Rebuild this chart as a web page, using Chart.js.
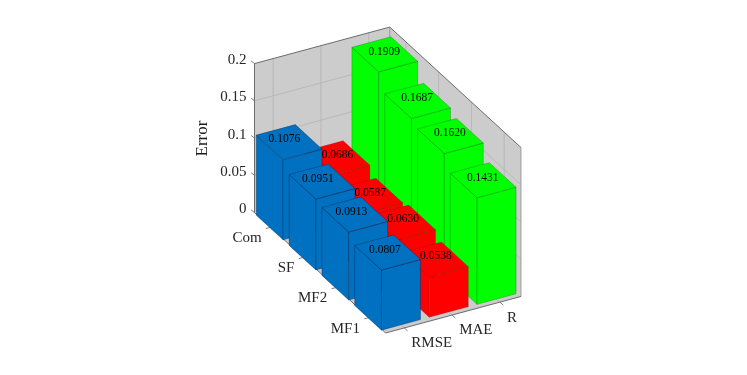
<!DOCTYPE html>
<html><head><meta charset="utf-8">
<style>html,body{margin:0;padding:0;background:#fff}canvas{display:block}</style>
<script src="https://cdn.jsdelivr.net/npm/chart.js@4/dist/chart.umd.js"></script>
</head><body><canvas id="c" width="747" height="375"></canvas>
<script>
// ---- data ----
const categories = ['Com', 'SF', 'MF2', 'MF1'];
const metrics = ['RMSE', 'MAE', 'R'];
const rmseValues = [0.1076, 0.0951, 0.0913, 0.0807];
const maeValues = [0.0686, 0.0587, 0.0630, 0.0538];
const rValues = [0.1909, 0.1687, 0.1620, 0.1431];
const seriesValues = [rmseValues, maeValues, rValues];
const seriesColors = ['#0070c0', '#ff0000', '#00ff00'];
const edgeColors = ['rgba(0,20,50,0.5)', 'rgba(90,0,0,0.3)', 'rgba(0,60,0,0.42)'];
const yTicks = [0, 0.05, 0.1, 0.15, 0.2];

// ---- oblique projection of the floor plane ----
const ORIGIN = [289.2, 222.3];
const METRIC_STEP = [47.8, -12.9];
const CATEGORY_STEP = [32.8, 30.1];
const M_LIM = [-0.39, 2.44];
const C_LIM = [-0.49, 3.51];
const HALF = 0.408;
const SERIF = '"Liberation Serif", "Times New Roman", serif';
const labelShift = [[-4.8, -2.9], [0.5, -3.2], [-0.5, -2.6]];
const rmseLabelDrift = 0.7;

function floorPt(m, c) {
  return [ORIGIN[0] + m * METRIC_STEP[0] + c * CATEGORY_STEP[0],
          ORIGIN[1] + m * METRIC_STEP[1] + c * CATEGORY_STEP[1]];
}
function poly(ctx, pts, fill, stroke, lw) {
  ctx.beginPath();
  pts.forEach((p, i) => i ? ctx.lineTo(p[0], p[1]) : ctx.moveTo(p[0], p[1]));
  ctx.closePath();
  if (fill) { ctx.fillStyle = fill; ctx.fill(); }
  if (stroke) { ctx.strokeStyle = stroke; ctx.lineWidth = lw; ctx.stroke(); }
}
function line(ctx, a, b, color, lw) {
  ctx.beginPath(); ctx.moveTo(a[0], a[1]); ctx.lineTo(b[0], b[1]);
  ctx.strokeStyle = color; ctx.lineWidth = lw; ctx.stroke();
}
const up = (p, dz) => [p[0], p[1] + dz];

class Bar3DController extends Chart.BarController {
  draw() {
    const ctx = this.chart.ctx, m = this.index, ds = this.getDataset();
    const y = this.getMeta().vScale, base = y.getPixelForValue(0);
    ctx.save();
    ctx.lineJoin = 'round';
    ds.data.forEach((v, c) => {
      const dz = y.getPixelForValue(v) - base;
      const left = floorPt(m - HALF, c - HALF), front = floorPt(m - HALF, c + HALF);
      const right = floorPt(m + HALF, c + HALF), back = floorPt(m + HALF, c - HALF);
      const col = ds.backgroundColor, edge = ds.borderColor;
      poly(ctx, [left, front, up(front, dz), up(left, dz)], col, edge, 0.6);
      poly(ctx, [front, right, up(right, dz), up(front, dz)], col, edge, 0.6);
      poly(ctx, [up(left, dz), up(front, dz), up(right, dz), up(back, dz)], col, edge, 0.6);
    });
    ctx.restore();
  }
}
Bar3DController.id = 'bar3d';
Bar3DController.defaults = Chart.BarController.defaults;
Bar3DController.overrides = Chart.BarController.overrides;
Chart.register(Bar3DController);

const box3d = {
  id: 'box3d',
  beforeDatasetsDraw(chart) {
    const ctx = chart.ctx, y = chart.scales.y, base = y.getPixelForValue(0);
    const top = y.getPixelForValue(0.2) - base;
    const L = floorPt(M_LIM[0], C_LIM[0]), F = floorPt(M_LIM[0], C_LIM[1]);
    const R = floorPt(M_LIM[1], C_LIM[1]), B = floorPt(M_LIM[1], C_LIM[0]);
    const wall = '#cccccc', grid = '#b4b4b4', dark = '#5f5f5f';
    ctx.save();
    poly(ctx, [L, F, R, B], wall);
    poly(ctx, [L, B, up(B, top), up(L, top)], wall);
    poly(ctx, [B, R, up(R, top), up(B, top)], wall);
    yTicks.forEach(t => {
      const dz = y.getPixelForValue(t) - base;
      if (t > 0 && t < 0.2) {
        line(ctx, up(L, dz), up(B, dz), grid, 0.8);
        line(ctx, up(B, dz), up(R, dz), grid, 0.8);
      }
      line(ctx, up(L, dz), [L[0] - 3.3, L[1] + dz - 2.6], dark, 0.8);
    });
    metrics.forEach((_, m) => {
      const a = floorPt(m, C_LIM[0]), e = floorPt(m, C_LIM[1]);
      line(ctx, a, up(a, top), grid, 0.8);
      line(ctx, a, e, grid, 0.8);
      line(ctx, e, [e[0] + 3.3, e[1] + 3], dark, 0.8);
    });
    categories.forEach((_, c) => {
      const a = floorPt(M_LIM[1], c), e = floorPt(M_LIM[0], c);
      line(ctx, a, up(a, top), grid, 0.8);
      line(ctx, a, e, grid, 0.8);
      line(ctx, e, [e[0] - 4.7, e[1] + 1.2], dark, 0.8);
    });
    line(ctx, L, up(L, top), dark, 0.9);
    line(ctx, up(L, top), up(B, top), dark, 0.9);
    line(ctx, up(B, top), up(R, top), dark, 0.9);
    line(ctx, B, up(B, top), '#8a8a8a', 0.8);
    line(ctx, R, up(R, top), '#8a8a8a', 0.8);
    line(ctx, L, F, dark, 0.9);
    line(ctx, F, R, dark, 0.9);
    ctx.restore();
  },
  afterDatasetsDraw(chart) {
    const ctx = chart.ctx, y = chart.scales.y, base = y.getPixelForValue(0);
    ctx.save();
    ctx.textBaseline = 'middle';
    ctx.textAlign = 'center';
    ctx.fillStyle = '#000';
    ctx.font = '11.5px ' + SERIF;
    chart.data.datasets.forEach((ds, m) => {
      ds.data.forEach((v, c) => {
        const p = floorPt(m, c);
        const drift = m === 0 ? c * rmseLabelDrift : 0;
        ctx.fillText(v.toFixed(4), p[0] + labelShift[m][0] + drift,
                     p[1] + y.getPixelForValue(v) - base + labelShift[m][1]);
      });
    });
    ctx.fillStyle = '#262626';
    ctx.font = '15px ' + SERIF;
    ctx.textAlign = 'right';
    chart.data.labels.forEach((t, c) => {
      const e = floorPt(M_LIM[0], c);
      ctx.fillText(t, e[0] - 9, e[1] + 11);
    });
    ctx.textAlign = 'left';
    chart.data.datasets.forEach((ds, m) => {
      const e = floorPt(m, C_LIM[1]);
      ctx.fillText(ds.label, e[0] + 7, e[1] + 15.5);
    });
    ctx.restore();
  }
};

new Chart(document.getElementById('c'), {
  type: 'bar3d',
  data: {
    labels: categories,
    datasets: metrics.map((name, i) => ({
      label: name,
      data: seriesValues[i],
      backgroundColor: seriesColors[i],
      borderColor: edgeColors[i],
      clip: false
    }))
  },
  options: {
    responsive: false,
    animation: false,
    layout: { padding: { left: 192, top: 64, right: 227, bottom: 162 } },
    plugins: { legend: { display: false }, tooltip: { enabled: false } },
    scales: {
      x: { type: 'category', display: false },
      y: {
        type: 'linear', min: 0, max: 0.2,
        afterFit(s) { s.width = 62; },
        afterBuildTicks(s) { s.ticks = yTicks.map(v => ({ value: v })); },
        grid: { display: false, drawTicks: false },
        border: { display: false },
        ticks: {
          padding: 7.5, labelOffset: -3.7, color: '#262626',
          font: { family: SERIF, size: 15 },
          callback: v => String(+v.toFixed(2))
        },
        title: {
          display: true, text: 'Error', color: '#1a1a1a', padding: 0,
          font: { family: SERIF, size: 17 }
        }
      }
    }
  },
  plugins: [box3d]
});
</script></body></html>
